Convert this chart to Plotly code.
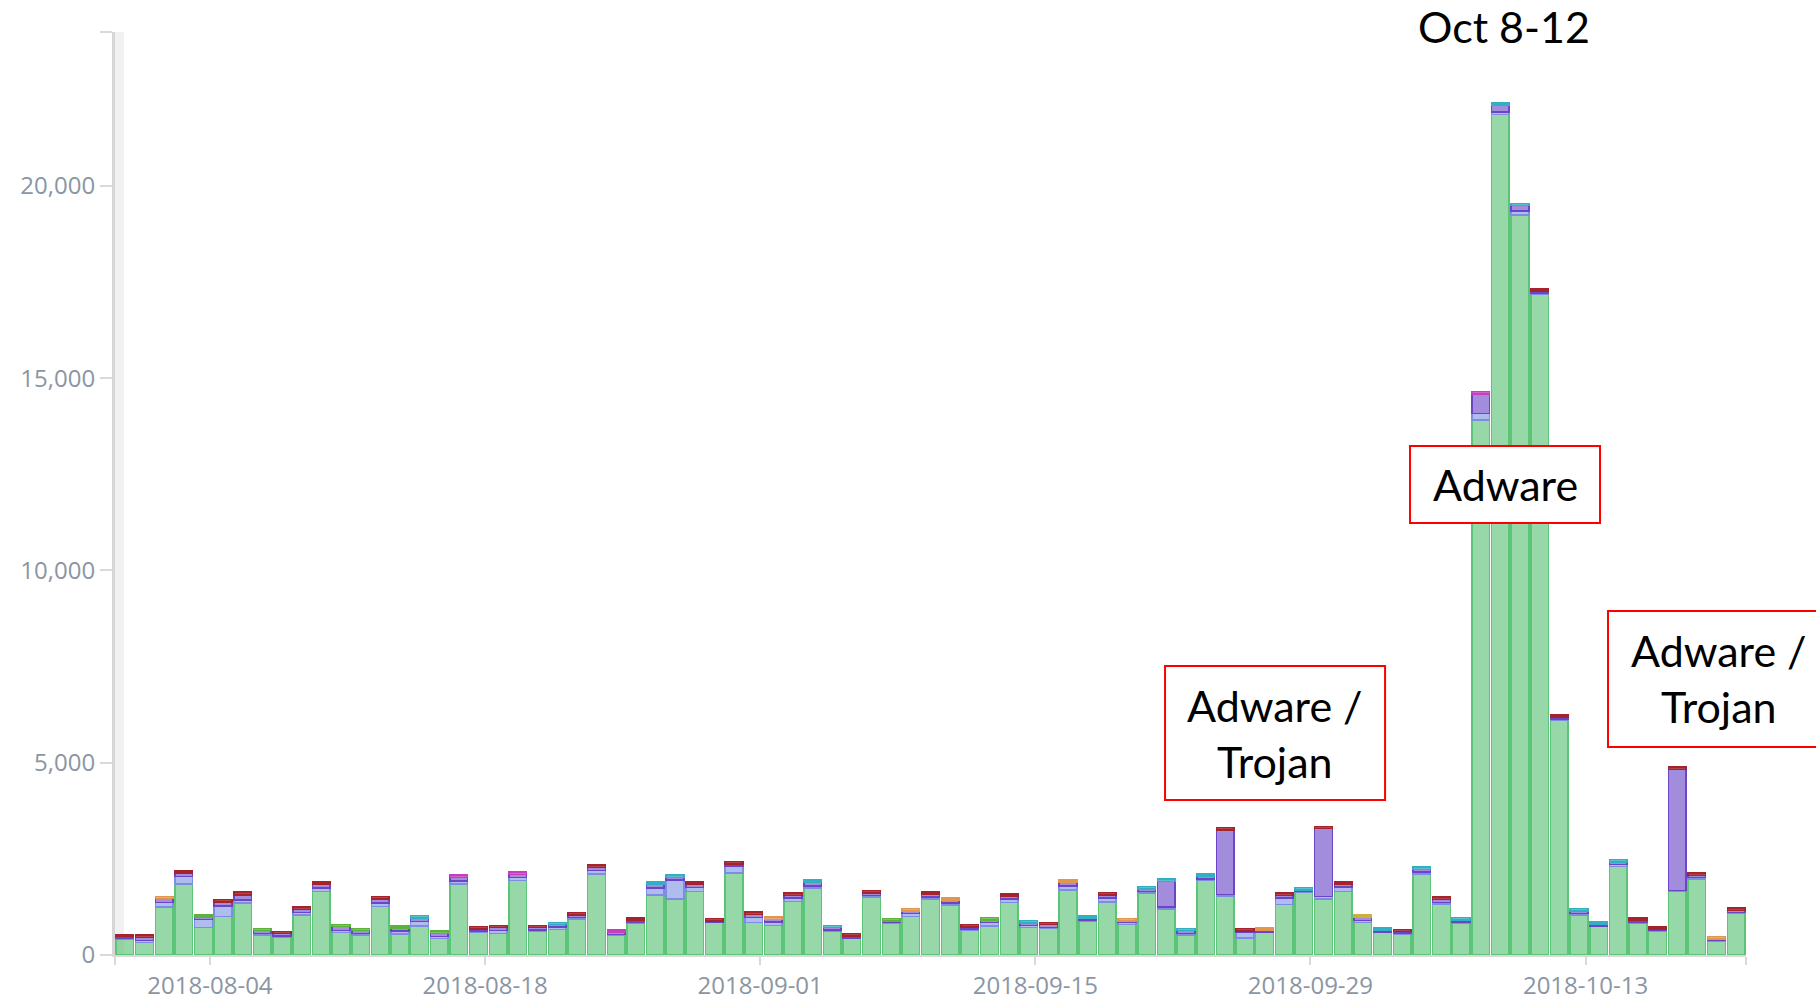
import pandas as pd
import plotly.graph_objects as go

# Daily detections, 2018-07-31 .. 2018-10-21
dates = pd.date_range("2018-07-31", "2018-10-21", freq="D").strftime("%Y-%m-%d").tolist()

green = [408, 321, 1242, 1850, 712, 999, 1346, 521, 460, 1042,
         1651, 582, 521, 1260, 547, 756, 434, 1850, 599, 565,
         1937, 608, 669, 930, 2111, 504, 825, 1564, 1451, 1651,
         843, 2128, 843, 764, 1390, 1737, 625, 426, 1503, 825,
         999, 1451, 1294, 652, 756, 1364, 721, 686, 1694, 877,
         1381, 799, 1607, 1190, 521, 1937, 1538, 443, 582, 1312,
         1624, 1460, 1651, 843, 582, 547, 2102, 1329, 825, 13916,
         21856, 19240, 17174, 6094, 1042, 738, 2302, 825, 625, 1650,
         1972, 347, 1086]

lightblue = [30, 60, 120, 190, 217, 278, 90, 40, 40, 60,
             90, 60, 40, 90, 80, 120, 50, 80, 30, 70,
             80, 40, 60, 40, 90, 30, 30, 180, 500, 100,
             20, 190, 130, 100, 90, 60, 30, 20, 40, 20,
             80, 60, 60, 20, 90, 90, 40, 30, 100, 30,
             100, 40, 40, 60, 40, 40, 30, 150, 20, 170,
             30, 60, 120, 60, 20, 20, 50, 40, 30, 160,
             60, 110, 40, 40, 40, 20, 50, 30, 15, 30,
             40, 30, 20]

purple = [38, 80, 105, 90, 53, 95, 130, 74, 57, 80,
          100, 97, 74, 110, 69, 89, 81, 85, 49, 78,
          80, 65, 62, 70, 76, 58, 49, 98, 65, 91,
          24, 54, 79, 58, 67, 98, 58, 50, 74, 42,
          68, 71, 72, 58, 67, 76, 74, 75, 101, 49,
          83, 48, 74, 662, 74, 74, 1682, 33, 42, 65,
          41, 1764, 71, 79, 42, 42, 73, 74, 58, 517,
          185, 145, 47, 51, 65, 42, 72, 49, 30, 3145,
          56, 41, 50]

teal = {"2018-08-15": 60, "2018-08-22": 60, "2018-08-27": 60, "2018-08-28": 60,
        "2018-09-04": 60, "2018-09-05": 60, "2018-09-15": 60, "2018-09-18": 60,
        "2018-09-21": 60, "2018-09-22": 60, "2018-09-23": 60, "2018-09-24": 60,
        "2018-09-29": 60, "2018-10-03": 60, "2018-10-05": 60, "2018-10-07": 60,
        "2018-10-09": 50, "2018-10-10": 50, "2018-10-13": 60, "2018-10-14": 60,
        "2018-10-15": 60}
lime = {"2018-08-04": 60, "2018-08-07": 60, "2018-08-11": 60, "2018-08-12": 60,
        "2018-08-14": 60, "2018-08-16": 60, "2018-09-08": 60, "2018-09-13": 60}
orange = {"2018-08-02": 60, "2018-09-02": 60, "2018-09-09": 60, "2018-09-11": 60,
          "2018-09-17": 60, "2018-09-20": 60, "2018-09-27": 60, "2018-10-20": 60}
gold = {"2018-10-02": 60}
magenta = {"2018-08-17": 70, "2018-08-20": 66, "2018-08-25": 60, "2018-10-08": 60}
darkred = {"2018-07-31": 45, "2018-08-01": 60, "2018-08-03": 60, "2018-08-05": 70,
           "2018-08-06": 67, "2018-08-08": 60, "2018-08-09": 60, "2018-08-10": 61,
           "2018-08-13": 60, "2018-08-18": 60, "2018-08-19": 60, "2018-08-21": 60,
           "2018-08-23": 63, "2018-08-24": 60, "2018-08-26": 60, "2018-08-29": 60,
           "2018-08-30": 60, "2018-08-31": 60, "2018-09-01": 60, "2018-09-03": 60,
           "2018-09-06": 60, "2018-09-07": 60, "2018-09-10": 60, "2018-09-12": 60,
           "2018-09-14": 60, "2018-09-16": 60, "2018-09-19": 60, "2018-09-25": 60,
           "2018-09-26": 60, "2018-09-28": 60, "2018-09-30": 60, "2018-10-01": 60,
           "2018-10-04": 60, "2018-10-06": 60, "2018-10-11": 60, "2018-10-12": 60,
           "2018-10-16": 60, "2018-10-17": 60, "2018-10-18": 60, "2018-10-19": 60,
           "2018-10-21": 60}

tick_dates = ["2018-08-04", "2018-08-18", "2018-09-01", "2018-09-15", "2018-09-29", "2018-10-13"]
y_ticks = [0, 5000, 10000, 15000, 20000]

# (values, fill, outline) from the bottom of the stack upwards
layers = [
    (green, "rgba(80,190,110,0.6)", "rgb(92,196,118)"),
    (lightblue, "rgba(120,145,225,0.6)", "rgb(125,142,226)"),
    (purple, "rgba(110,80,200,0.65)", "rgb(108,68,200)"),
    ([lime.get(d) for d in dates], "rgba(90,180,60,0.8)", "rgb(90,180,60)"),
    ([teal.get(d) for d in dates], "rgba(50,175,195,0.8)", "rgb(50,175,195)"),
    ([orange.get(d) for d in dates], "rgba(225,150,80,0.8)", "rgb(225,150,80)"),
    ([gold.get(d) for d in dates], "rgba(205,175,60,0.8)", "rgb(205,175,60)"),
    ([magenta.get(d) for d in dates], "rgba(200,60,190,0.8)", "rgb(200,60,190)"),
    ([darkred.get(d) for d in dates], "rgba(165,35,45,0.85)", "rgb(165,35,45)"),
]

fig = go.Figure()
for vals, fill, edge in layers:
    fig.add_trace(go.Bar(
        x=dates, y=vals,
        marker=dict(color=fill, line=dict(color=edge, width=1.5)),
        showlegend=False,
    ))

x0, x1 = "2018-07-30 12:00", "2018-10-21 12:00"
tick_font = dict(family="Open Sans", size=24, color="#8a96a3")

fig.update_layout(
    barmode="stack",
    bargap=0.1,
    width=1816, height=1000,
    margin=dict(l=115, r=70, t=32, b=45),
    plot_bgcolor="white", paper_bgcolor="white",
    xaxis=dict(
        range=[x0, x1],
        automargin=False,
        tickmode="array",
        tickvals=[x0] + [d + " 08:00" for d in tick_dates] + [x1],
        ticktext=[""] + tick_dates + [""],
        ticks="outside", ticklen=8, tickwidth=2, tickcolor="#d9d9d9",
        showline=True, linecolor="#d9d9d9", linewidth=2,
        showgrid=False, zeroline=False,
        tickfont=tick_font,
    ),
    yaxis=dict(
        range=[0, 24000],
        automargin=False,
        tickmode="array",
        tickvals=y_ticks + [24000],
        ticktext=[f"{v:,}" for v in y_ticks] + [""],
        ticks="outside", ticklen=12, tickwidth=2, tickcolor="#d9d9d9",
        showline=True, linecolor="#d6d6d6", linewidth=3,
        showgrid=False, zeroline=False,
        tickfont=tick_font,
    ),
)

# light band along the value axis
fig.add_shape(type="rect", xref="paper", yref="paper", x0=0, x1=0.0055, y0=0, y1=1,
              fillcolor="#f1f1f1", line_width=0, layer="below")

note_font = dict(family="Lato", size=43, color="black")

# highlighted periods
boxes = [
    (0.6438, 0.7787, 0.1679, 0.3131, "Adware /<br>Trojan"),
    (0.7940, 0.9105, 0.4680, 0.5515, "Adware"),
    (0.9154, 1.0510, 0.2254, 0.3727, "Adware /<br>Trojan"),
]
for bx0, bx1, by0, by1, label in boxes:
    fig.add_shape(type="rect", xref="paper", yref="paper",
                  x0=bx0, x1=bx1, y0=by0, y1=by1,
                  fillcolor="white", line=dict(color="#ff0000", width=2), layer="above")
    fig.add_annotation(xref="paper", yref="paper", x=(bx0 + bx1) / 2, y=(by0 + by1) / 2,
                       text=label, showarrow=False, font=note_font,
                       xanchor="center", yanchor="middle")

fig.add_annotation(xref="paper", yref="paper", x=0.8516, y=1.0065, text="Oct 8-12",
                   showarrow=False, font=note_font, xanchor="center", yanchor="middle")

fig.write_html("out.html")
